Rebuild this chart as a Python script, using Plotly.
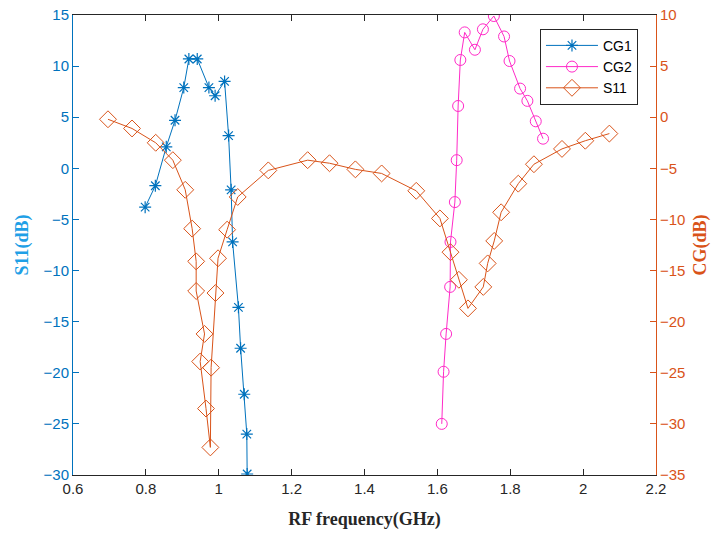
import plotly.graph_objects as go

# CG1 (left axis)
cg1_freq = [0.798, 0.826, 0.856, 0.880, 0.904, 0.918, 0.941, 0.973, 0.990, 1.016,
            1.027, 1.034, 1.038, 1.054, 1.060, 1.070, 1.077, 1.078]
cg1_db = [-3.8, -1.7, 2.1, 4.7, 7.9, 10.7, 10.7, 7.9, 7.1, 8.5,
          3.2, -2.1, -7.2, -13.6, -17.6, -22.1, -26.0, -29.9]

# CG2 (left axis)
cg2_freq = [1.612, 1.617, 1.624, 1.635, 1.636, 1.648, 1.653, 1.657, 1.663, 1.675,
            1.703, 1.725, 1.755, 1.783, 1.798, 1.827, 1.847, 1.870, 1.890]
cg2_db = [-25.0, -19.9, -16.2, -11.6, -7.2, -3.3, 0.8, 6.1, 10.6, 13.3,
          11.6, 13.6, 14.9, 12.9, 10.5, 7.8, 6.6, 4.6, 2.9]

# S11 (right axis)
s11_freq = [0.696, 0.762, 0.827, 0.874, 0.908, 0.927, 0.938, 0.938, 0.961, 0.949,
            0.965, 0.977, 0.979, 0.991, 0.998, 1.023, 1.052, 1.136, 1.244, 1.304,
            1.375, 1.447, 1.542, 1.607, 1.636, 1.659, 1.684, 1.726, 1.738, 1.756,
            1.775, 1.822, 1.865, 1.942, 2.006, 2.072]
s11_db = [-0.2, -1.1, -2.5, -4.2, -7.1, -10.9, -14.1, -17.0, -21.2, -23.9,
          -28.5, -32.3, -24.5, -17.2, -13.8, -11.0, -7.8, -5.2, -4.2, -4.5,
          -5.1, -5.5, -7.2, -9.9, -13.2, -15.9, -18.7, -16.6, -14.3, -12.1,
          -9.3, -6.5, -4.6, -3.1, -2.3, -1.6]

x_ticks = [0.6, 0.8, 1.0, 1.2, 1.4, 1.6, 1.8, 2.0, 2.2]
x_tick_text = ["0.6", "0.8", "1", "1.2", "1.4", "1.6", "1.8", "2", "2.2"]
left_ticks = [15, 10, 5, 0, -5, -10, -15, -20, -25, -30]
right_ticks = [10, 5, 0, -5, -10, -15, -20, -25, -30, -35]

BLUE = "#0072BD"
ORANGE = "#D95319"
PINK = "#FF2BC8"
DARK = "#262626"

fig = go.Figure()
fig.add_trace(go.Scatter(
    x=cg1_freq, y=cg1_db, name="CG1", mode="lines+markers",
    line=dict(color=BLUE, width=1),
    marker=dict(symbol="asterisk-open", size=10, color=BLUE,
                line=dict(color=BLUE, width=1.2)),
))
fig.add_trace(go.Scatter(
    x=cg2_freq, y=cg2_db, name="CG2", mode="lines+markers",
    line=dict(color=PINK, width=1),
    marker=dict(symbol="circle-open", size=11, color=PINK,
                line=dict(color=PINK, width=1)),
))
fig.add_trace(go.Scatter(
    x=s11_freq, y=s11_db, name="S11", mode="lines+markers", yaxis="y2",
    line=dict(color=ORANGE, width=1),
    marker=dict(symbol="diamond-open", size=13, color=ORANGE,
                line=dict(color=ORANGE, width=1)),
))

tick_font = dict(family="Liberation Sans, Arial, sans-serif", size=15)
title_font = dict(family="Liberation Serif, Times New Roman, serif", size=18)

fig.update_layout(
    width=724, height=538,
    margin=dict(l=73, r=68, t=15, b=63, autoexpand=False),
    paper_bgcolor="white", plot_bgcolor="white",
    showlegend=True,
    legend=dict(
        x=0.801, y=0.97, xanchor="left", yanchor="top",
        bordercolor=DARK, borderwidth=1, bgcolor="white",
        font=dict(family="Liberation Sans, Arial, sans-serif", size=14, color="black"),
        tracegroupgap=0, itemwidth=52,
    ),
    xaxis=dict(
        range=[0.6, 2.2], tickvals=x_ticks, ticktext=x_tick_text,
        ticks="inside", ticklen=6, tickcolor=DARK, showline=True,
        linecolor=DARK, linewidth=1, mirror="ticks", showgrid=False,
        zeroline=False, tickfont=dict(color=DARK, **tick_font), automargin=False,
        title=dict(text="<b>RF frequency(GHz)</b>", font=dict(color=DARK, **title_font),
                   standoff=16),
    ),
    yaxis=dict(
        range=[-30, 15], tickvals=left_ticks, ticks="inside", ticklen=6,
        tickcolor=BLUE, showline=True, linecolor=BLUE, linewidth=1,
        showgrid=False, zeroline=False, tickfont=dict(color=BLUE, **tick_font),
        automargin=False,
        title=dict(text="<b>S11(dB)</b>", font=dict(color="#1FA0E6", **title_font),
                   standoff=10),
    ),
    yaxis2=dict(
        range=[-35, 10], tickvals=right_ticks, ticks="inside", ticklen=6,
        tickcolor=ORANGE, showline=True, linecolor=ORANGE, linewidth=1,
        overlaying="y", side="right", showgrid=False, zeroline=False,
        tickfont=dict(color=ORANGE, **tick_font), automargin=False,
        title=dict(text="<b>CG(dB)</b>", font=dict(color=ORANGE, **title_font),
                   standoff=8),
    ),
)

fig.write_html("out.html")
